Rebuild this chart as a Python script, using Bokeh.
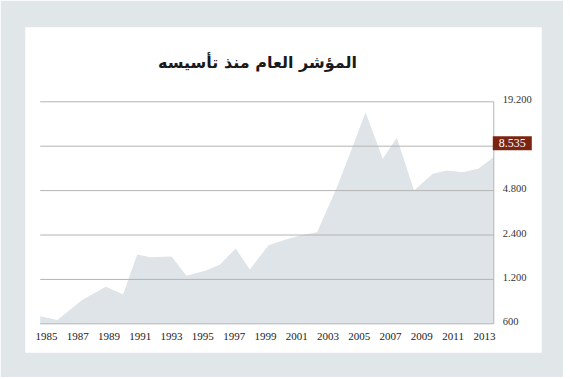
from bokeh.plotting import figure
from bokeh.models import Range1d, Label
from bokeh.embed import file_html
from bokeh.resources import INLINE

# ---- data ----
title_text = "المؤشر العام منذ تأسيسه"
years = [1984.6, 1985.7, 1987.3, 1988.8, 1989.9, 1990.8, 1991.65, 1993.0, 1993.95,
         1995.2, 1996.1, 1997.1, 1998.0, 1999.2, 2000.3, 2001.2, 2002.3, 2003.5,
         2004.5, 2005.4, 2006.5, 2007.4, 2008.5, 2009.7, 2010.6, 2011.6, 2012.6, 2013.6]
index_values = [676, 638, 873, 1069, 948, 1770, 1698, 1716, 1269,
                1380, 1515, 1944, 1400, 2047, 2240, 2380, 2507, 4850,
                9100, 16300, 7890, 10950, 4800, 6240, 6560, 6400, 6750, 8100]
x_ticks = [1985, 1987, 1989, 1991, 1993, 1995, 1997, 1999, 2001, 2003, 2005, 2007, 2009, 2011, 2013]
x_tick_labels = [str(y) for y in x_ticks]
y_ticks = [600, 1200, 2400, 4800, 9600, 19200]
y_tick_labels = ["600", "1.200", "2.400", "4.800", "", "19.200"]
current_label = "8.535"

OUTER = "#e1e6e9"
AREA = "#dfe4e8"
GRID = "#b4b4b4"
BOX = "#7b2410"

# the frame is the white card; the chart sits inside it with margins
p = figure(width=563, height=377, output_backend="svg", toolbar_location=None,
           y_axis_type="log",
           x_range=Range1d(1983.66, 2016.65),
           y_range=Range1d(383.4, 61240),
           min_border_left=25, min_border_right=22,
           min_border_top=27, min_border_bottom=25)
p.border_fill_color = OUTER
p.background_fill_color = "white"
p.outline_line_color = None
p.axis.visible = False
p.grid.visible = False

# area
p.varea(x=years, y1=y_ticks[0], y2=index_values, fill_color=AREA)

# horizontal grid lines spanning the data extent
n = len(y_ticks)
p.segment(x0=[years[0]] * n, x1=[years[-1]] * n, y0=y_ticks, y1=y_ticks,
          line_color=GRID, line_width=1)
# right axis line
p.segment(x0=[years[-1]], x1=[years[-1]], y0=[y_ticks[0]], y1=[y_ticks[-1]],
          line_color=GRID, line_width=1)

# right axis labels
p.text(x=[years[-1]] * n, y=y_ticks, text=y_tick_labels, x_offset=9, y_offset=-2,
       text_align="left", text_baseline="middle",
       text_font={"value": "Liberation Serif"}, text_font_size="10.5px",
       text_color="#333333")

# bottom axis labels
m = len(x_ticks)
p.text(x=x_ticks, y=[y_ticks[0]] * m, text=x_tick_labels, y_offset=13,
       text_align="center", text_baseline="middle",
       text_font={"value": "Liberation Serif"}, text_font_size="11px",
       text_color="#222222")

# highlighted current value
p.add_layout(Label(x=years[-1], y=y_ticks[4], text=current_label,
                   x_offset=-1, y_offset=3, text_align="left", text_baseline="middle",
                   text_font="Liberation Serif", text_font_size="12px", text_color="white",
                   background_fill_color=BOX, background_fill_alpha=1.0, padding=(6, 3)))

# title
p.add_layout(Label(x=232, y=290, x_units="screen", y_units="screen",
                   text=title_text, text_align="center", text_baseline="middle",
                   text_font="DejaVu Sans", text_font_style="bold",
                   text_font_size="16px", text_color="#1a1a1a"))

open("out.html", "w").write(file_html(p, INLINE))
